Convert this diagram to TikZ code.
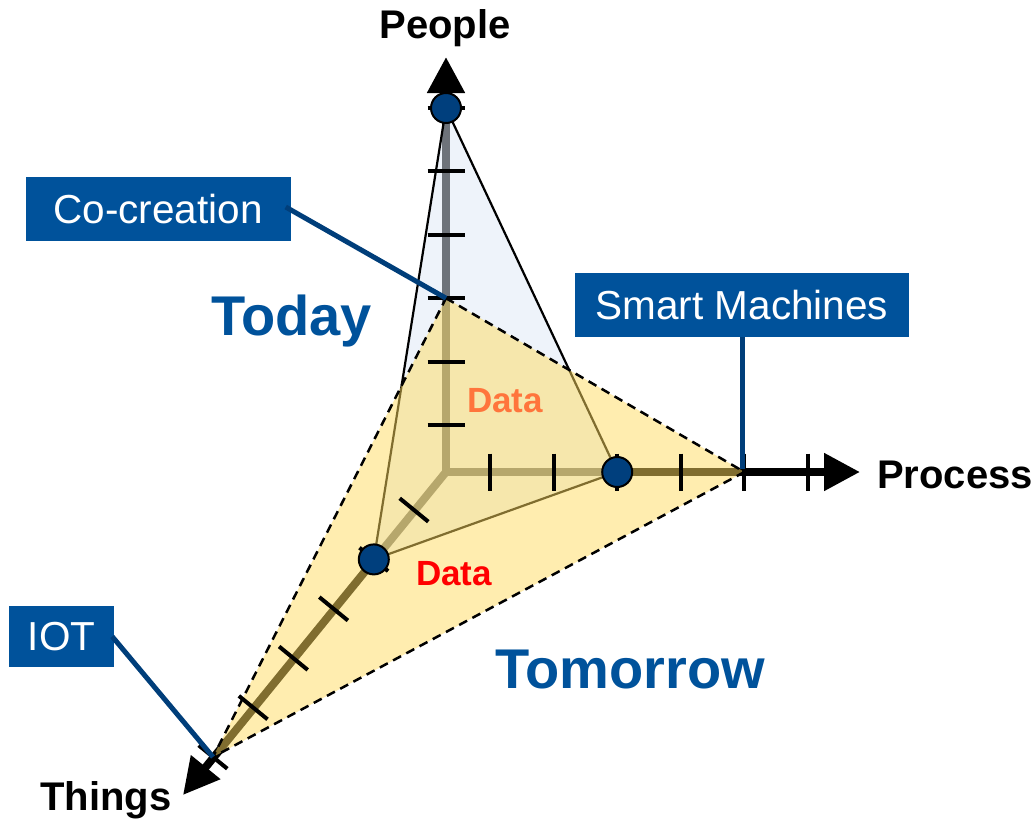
\documentclass[tikz,border=0pt]{standalone}
\usepackage{fontspec}
\setmainfont{Liberation Sans}
\usetikzlibrary{arrows.meta,calc}
\definecolor{boxblue}{RGB}{0,82,155}
\definecolor{linkblue}{RGB}{0,62,122}
\definecolor{dotblue}{RGB}{0,63,125}
\definecolor{yel}{RGB}{255,219,95}
\definecolor{pale}{RGB}{221,231,245}
\definecolor{dataor}{RGB}{255,117,60}
\begin{document}
\begin{tikzpicture}[x=1pt,y=-1pt,
  axisline/.style={line width=8pt, line cap=round, -{Triangle[length=36pt,width=36pt]}},
  tickmark/.style={line width=4pt},
  dotnode/.style={circle, minimum size=30pt, inner sep=0pt, fill=dotblue, draw=black, line width=2pt},
  axislabel/.style={font=\fontsize{40}{42}\bfseries\selectfont, inner sep=0pt, anchor=base west},
  bigblue/.style={font=\fontsize{56}{60}\bfseries\selectfont, text=boxblue, inner sep=0pt, anchor=base west},
  datalabel/.style={font=\fontsize{35}{37}\bfseries\selectfont, inner sep=0pt, anchor=base west},
  callout/.style={fill=boxblue, text=white, font=\fontsize{40.5}{42}\selectfont, inner sep=0pt},
  link/.style={draw=linkblue, line width=5pt},
  dashedge/.style={draw=black, line width=2.5pt, dash pattern=on 9pt off 6pt}
]
\useasboundingbox (0,0) rectangle (1036,819);

% axes
\coordinate (O) at (446,472);
\coordinate (Ptip) at (446,57);
\coordinate (Rtip) at (860,472);
\coordinate (Ttip) at (183,795);
\draw[axisline] (O) -- (Ptip);
\draw[axisline] (O) -- (Rtip);
\draw[axisline] (O) -- (Ttip);

% key points
\coordinate (P5) at (446,108);
\coordinate (R2) at (617.2,472);
\coordinate (T1) at (373.8,559.4);
\coordinate (Y1) at (446,298.2);
\coordinate (Y2) at (744.4,472);
\coordinate (Y3) at (213,757);

% today triangle (blue)
\filldraw[fill=pale, fill opacity=0.5, draw=black, line width=2.2pt, line join=round]
  (P5) -- (R2) -- (T1) -- cycle;

% tomorrow triangle (yellow)
\fill[yel, fill opacity=0.5] (Y1) -- (Y2) -- (Y3) -- cycle;
\draw[dashedge] (Y1) -- (Y2) -- (Y3) -- cycle;

% ticks
\foreach \yy in {425,361.6,298.2,234.8,171.4,108}
  \draw[tickmark] (427.5,\yy) -- (464.5,\yy);
\foreach \xx in {490,553.6,617.2,680.8,744.4,808}
  \draw[tickmark] (\xx,453.5) -- (\xx,490.5);
\foreach \xx/\yy in {414/510,373.8/559.4,333.6/608.8,293.4/658.2,253.2/707.6,213/757}
  \draw[tickmark] (\xx-14.3,\yy-11.7) -- (\xx+14.3,\yy+11.7);

% dots
\node[dotnode] (dP) at (P5) {};
\node[dotnode] (dR) at (R2) {};
\node[dotnode] (dT) at (T1) {};

% axis labels
\node[axislabel, anchor=base] (lp) at (445,38) {People};
\node[axislabel] (lr) at (877,488) {Process};
\node[axislabel] (lt) at (40,810) {Things};

% big labels
\node[bigblue] (today) at (211,335) {Today};
\node[bigblue] (tomorrow) at (495,688) {Tomorrow};
\node[datalabel, text=dataor] (d1) at (467,412) {Data};
\node[datalabel, text=red] (d2) at (416,585) {Data};

% callouts
\node[callout, minimum width=265pt, minimum height=64pt] (cocre) at (158,209) {Co-creation};
\node[callout, minimum width=334pt, minimum height=64pt] (smart) at (742,305) {Smart Machines};
\node[callout, minimum width=105pt, minimum height=61pt] (iot) at (61.5,636.5) {IOT};

\coordinate (Sfoot) at (742,469);
\draw[link] ($(cocre.east)+(-5,-2)$) -- (Y1);
\draw[link] (smart.south -| Sfoot) -- (Sfoot);
\draw[link] ($(iot.east)+(-2,0)$) -- (Y3);
\end{tikzpicture}
\end{document}
